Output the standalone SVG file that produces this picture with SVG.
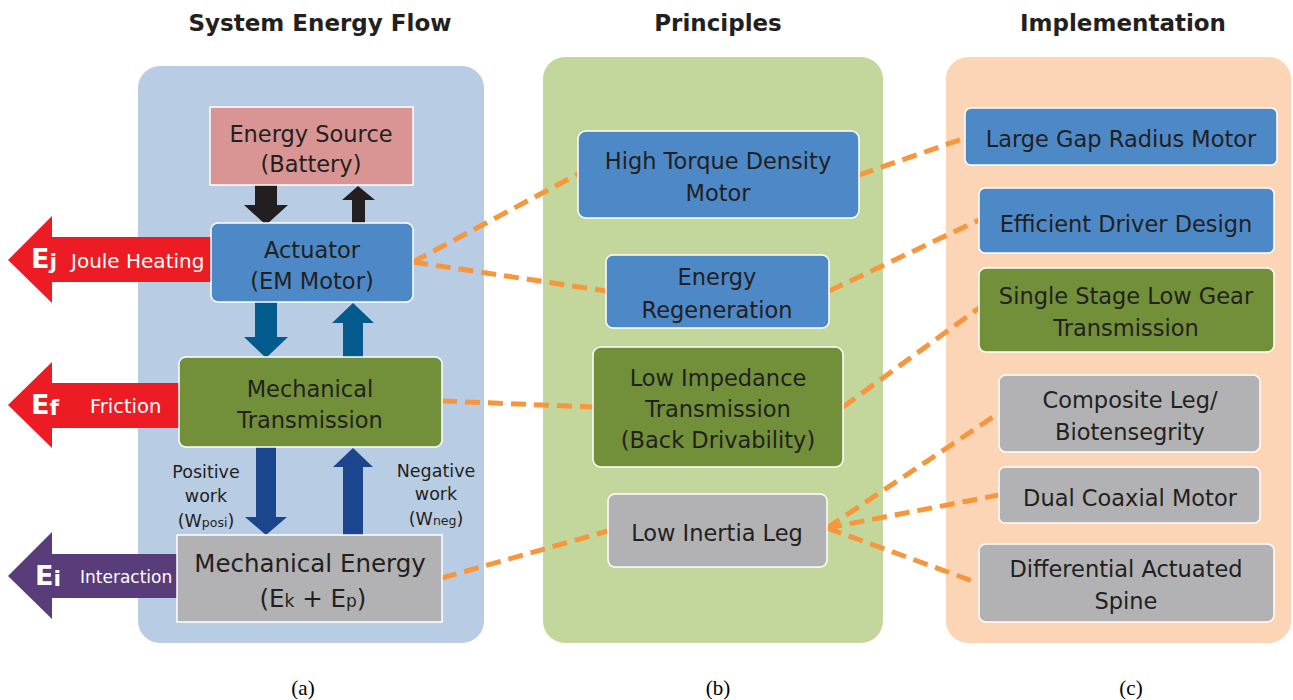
<svg xmlns="http://www.w3.org/2000/svg" width="1293" height="700" viewBox="0 0 1293 700">
<style>
.t{font-family:"DejaVu Sans",Verdana,sans-serif;fill:#231f20;text-anchor:middle}
.b{font-size:22.5px}
.title{font-family:"DejaVu Sans",Verdana,sans-serif;font-weight:bold;font-size:23px;fill:#231f20;text-anchor:middle}
.cap{font-family:"Liberation Serif","Times New Roman",serif;font-size:21px;fill:#000;text-anchor:middle}
.w{font-family:"DejaVu Sans",Verdana,sans-serif;fill:#fff}
.wb{font-family:"DejaVu Sans",Verdana,sans-serif;fill:#fff;font-weight:bold}
.nb{fill:#4d88c7;stroke:#fff;stroke-width:1.5}
.ng{fill:#728f3a;stroke:#fff;stroke-width:1.5}
.ny{fill:#b2b2b4;stroke:#fff;stroke-width:1.5}
.dash{fill:none;stroke:#f7963d;stroke-width:5;stroke-dasharray:15 8}
</style>
<rect width="1293" height="700" fill="#fff"/>
<g id="panels">
<rect id="panel-a" x="138" y="66" width="346" height="577" rx="22" fill="#b8cce4"/>
<rect id="panel-b" x="543" y="57" width="340" height="586" rx="22" fill="#c3d69b"/>
<rect id="panel-c" x="946" y="57" width="345" height="586" rx="22" fill="#fbd5b5"/>
</g>
<g id="titles">
<text class="title" x="320" y="31">System Energy Flow</text>
<text class="title" x="718" y="31">Principles</text>
<text class="title" x="1123" y="31">Implementation</text>
<text class="cap" x="303" y="695">(a)</text>
<text class="cap" x="718" y="695">(b)</text>
<text class="cap" x="1131" y="695">(c)</text>
</g>
<g id="losses">
<g id="loss-joule">
<polygon points="8,260 52,216 52,237 211,237 211,282 52,282 52,303" fill="#ed1c24"/>
<text class="wb" x="31" y="268" font-size="27">E<tspan font-size="22" dy="1">j</tspan></text>
<text class="w" x="71" y="268" font-size="20">Joule Heating</text>
</g>
<g id="loss-friction">
<polygon points="8,405 52,362 52,383 179,383 179,428 52,428 52,448" fill="#ed1c24"/>
<text class="wb" x="31" y="414" font-size="27">E<tspan font-size="22" dy="1">f</tspan></text>
<text class="w" x="90" y="413" font-size="19.5">Friction</text>
</g>
<g id="loss-interaction">
<polygon points="8,576 52,532 52,554 177,554 177,598 52,598 52,619" fill="#583d7a"/>
<text class="wb" x="35" y="585" font-size="27">E<tspan font-size="22" dy="1">i</tspan></text>
<text class="w" x="80" y="583" font-size="17">Interaction</text>
</g>
</g>
<g id="flow-arrows">
<polygon points="255,185 277,185 277,205 288,205 266,225 244,205 255,205" fill="#231f20"/>
<polygon points="352,223 365,223 365,200 375,200 358,186 342,200 352,200" fill="#231f20"/>
<polygon points="255,302 277,302 277,337 288,337 266,358 244,337 255,337" fill="#035a8c"/>
<polygon points="343,357 363,357 363,323 374,323 353,303 332,323 343,323" fill="#035a8c"/>
<polygon points="256,447 276,447 276,517 287,517 266,535 245,517 256,517" fill="#1b458d"/>
<polygon points="343,535 363,535 363,467 373,467 353,448 333,467 343,467" fill="#1b458d"/>
<text class="t" x="206" y="478" font-size="17.5">Positive</text>
<text class="t" x="206" y="502" font-size="17.5">work</text>
<text class="t" x="206" y="527" font-size="17.5">(W<tspan font-size="12.5">posi</tspan>)</text>
<text class="t" x="436" y="477" font-size="17.5">Negative</text>
<text class="t" x="436" y="500" font-size="17.5">work</text>
<text class="t" x="436" y="525" font-size="17.5">(W<tspan font-size="12.5">neg</tspan>)</text>
</g>
<g id="connectors">
<line class="dash" x1="413" y1="262" x2="578" y2="174"/>
<line class="dash" x1="413" y1="262" x2="606" y2="291"/>
<line class="dash" x1="859" y1="175" x2="965" y2="138"/>
<line class="dash" x1="829" y1="291" x2="979" y2="220"/>
<line class="dash" x1="843" y1="407" x2="979" y2="308"/>
<line class="dash" x1="442" y1="401" x2="593" y2="407"/>
<line class="dash" x1="442" y1="578" x2="608" y2="531"/>
<line class="dash" x1="827" y1="528" x2="999" y2="413"/>
<line class="dash" x1="827" y1="528" x2="999" y2="495"/>
<line class="dash" x1="827" y1="528" x2="978" y2="583"/>
</g>
<g id="energy-source">
<rect x="210" y="107" width="203" height="78" fill="#d99594" stroke="#fff" stroke-width="1.5"/>
<text class="t b" x="311" y="142">Energy Source</text>
<text class="t b" x="311" y="172">(Battery)</text>
</g>
<g id="actuator">
<rect class="nb" x="211" y="223" width="202" height="79" rx="7"/>
<text class="t b" x="312" y="258">Actuator</text>
<text class="t b" x="312" y="289">(EM Motor)</text>
</g>
<g id="mech-transmission">
<rect class="ng" x="179" y="357" width="263" height="90" rx="7"/>
<text class="t b" x="310" y="397">Mechanical</text>
<text class="t b" x="310" y="428">Transmission</text>
</g>
<g id="mech-energy">
<rect class="ny" x="177" y="535" width="265" height="87"/>
<text class="t" x="310" y="572" font-size="24.5">Mechanical Energy</text>
<text class="t" x="313" y="607" font-size="24.5">(E<tspan font-size="17">k</tspan> + E<tspan font-size="17">p</tspan>)</text>
</g>
<g id="high-torque">
<rect class="nb" x="578" y="131" width="281" height="87" rx="8"/>
<text class="t b" x="718" y="169">High Torque Density</text>
<text class="t b" x="718" y="201">Motor</text>
</g>
<g id="energy-regen">
<rect class="nb" x="606" y="255" width="223" height="73" rx="7"/>
<text class="t b" x="717" y="285">Energy</text>
<text class="t b" x="717" y="318">Regeneration</text>
</g>
<g id="low-impedance">
<rect class="ng" x="593" y="347" width="250" height="120" rx="8"/>
<text class="t b" x="718" y="386">Low Impedance</text>
<text class="t b" x="718" y="417">Transmission</text>
<text class="t b" x="718" y="448">(Back Drivability)</text>
</g>
<g id="low-inertia">
<rect class="ny" x="608" y="494" width="219" height="73" rx="7"/>
<text class="t b" x="717" y="541">Low Inertia Leg</text>
</g>
<g id="large-gap">
<rect class="nb" x="965" y="108" width="312" height="57" rx="6"/>
<text class="t b" x="1121" y="147">Large Gap Radius Motor</text>
</g>
<g id="efficient-driver">
<rect class="nb" x="979" y="188" width="295" height="65" rx="6"/>
<text class="t b" x="1126" y="232">Efficient Driver Design</text>
</g>
<g id="single-stage">
<rect class="ng" x="979" y="268" width="295" height="84" rx="7"/>
<text class="t b" x="1126" y="304">Single Stage Low Gear</text>
<text class="t b" x="1126" y="336">Transmission</text>
</g>
<g id="composite-leg">
<rect class="ny" x="999" y="375" width="261" height="77" rx="7"/>
<text class="t b" x="1130" y="408">Composite Leg/</text>
<text class="t b" x="1130" y="440">Biotensegrity</text>
</g>
<g id="dual-coaxial">
<rect class="ny" x="999" y="467" width="261" height="56" rx="6"/>
<text class="t b" x="1130" y="506">Dual Coaxial Motor</text>
</g>
<g id="differential-spine">
<rect class="ny" x="979" y="544" width="295" height="78" rx="7"/>
<text class="t b" x="1126" y="577">Differential Actuated</text>
<text class="t b" x="1126" y="609">Spine</text>
</g>
</svg>
